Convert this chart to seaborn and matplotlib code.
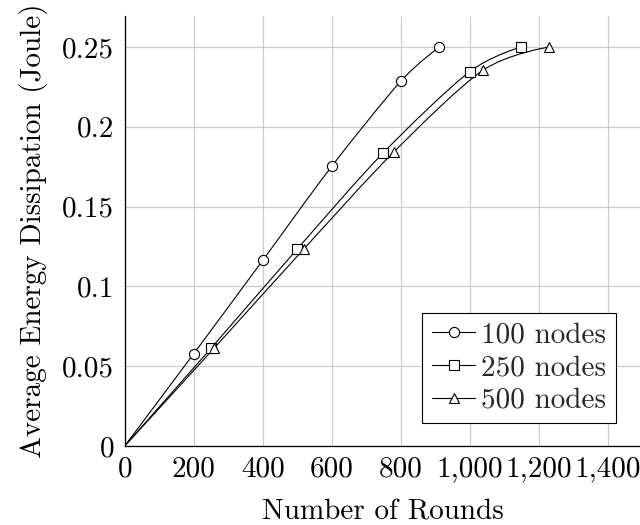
import matplotlib
matplotlib.use("Agg")
import numpy as np
import matplotlib.pyplot as plt
from matplotlib.ticker import FuncFormatter
from matplotlib.path import Path
from matplotlib.patches import PathPatch
import seaborn as sns

# Average energy dissipated per node versus number of rounds
rounds_100 = [0, 200, 400, 600, 800, 912]
energy_100 = [0, 0.0578, 0.1163, 0.1752, 0.2285, 0.25]
rounds_250 = [0, 250, 500, 750, 1000, 1150]
energy_250 = [0, 0.0612, 0.1234, 0.1838, 0.2345, 0.25]
rounds_500 = [0, 260, 520, 780, 1040, 1230]
energy_500 = [0, 0.0615, 0.1236, 0.1842, 0.2356, 0.25]
series_labels = ["100 nodes", "250 nodes", "500 nodes"]
series_markers = ["o", "s", "^"]
x_ticks = [0, 200, 400, 600, 800, 1000, 1200, 1400]
y_ticks = [0, 0.05, 0.1, 0.15, 0.2, 0.25]


def smooth_path(xs, ys, tension=0.55):
    """Cubic Bezier path through the points, TikZ 'smooth' style."""
    pts = np.column_stack([xs, ys]).astype(float)
    f = 0.2775 * tension
    n = len(pts)
    verts = [pts[0]]
    codes = [Path.MOVETO]
    for i in range(n - 1):
        p1, p2 = pts[i], pts[i + 1]
        c1 = p1 if i == 0 else p1 + f * (p2 - pts[i - 1])
        c2 = p2 if i + 2 >= n else p2 - f * (pts[i + 2] - p1)
        verts += [c1, c2, p2]
        codes += [Path.CURVE4] * 3
    return Path(verts, codes)


sns.set_theme(style="white")
plt.rcParams["font.family"] = ["cmr10", "DejaVu Serif"]
plt.rcParams["axes.formatter.use_mathtext"] = True
plt.rcParams["mathtext.fontset"] = "cm"

FS = 21
fig = plt.figure(figsize=(6.4, 5.25), dpi=100)
ax = fig.add_axes([124.7 / 640, 79 / 525, 516.8 / 640, 430 / 525])

series = [(rounds_100, energy_100), (rounds_250, energy_250), (rounds_500, energy_500)]
marker_sizes = [7.3, 7.6, 7.4]
for (xs, ys), lab, mk, ms in zip(series, series_labels, series_markers, marker_sizes):
    ax.add_patch(PathPatch(smooth_path(xs, ys), facecolor="none", edgecolor="black",
                           linewidth=0.8, zorder=2))
    sns.lineplot(x=xs, y=ys, ax=ax, label=lab, color="black", linestyle="none",
                 marker=mk, markersize=ms, markerfacecolor="white",
                 markeredgecolor="black", markeredgewidth=0.8,
                 markevery=slice(1, None), estimator=None, sort=False, zorder=3)

ax.set_xlim(0, 1498)
ax.set_ylim(0, 0.2694)
ax.set_xticks(x_ticks)
ax.set_yticks(y_ticks)
ax.xaxis.set_major_formatter(FuncFormatter(lambda v, p: f"{v:,.0f}"))
ax.yaxis.set_major_formatter(FuncFormatter(lambda v, p: "0" if v == 0 else f"{v:g}"))

ax.grid(True, color="#cccccc", linewidth=0.9, zorder=0)
ax.set_axisbelow(True)
for side in ("top", "right"):
    ax.spines[side].set_visible(False)
for side in ("left", "bottom"):
    ax.spines[side].set_color("black")
    ax.spines[side].set_linewidth(0.9)

ax.tick_params(axis="both", direction="in", length=7, width=0.8, color="#8a8a8a",
               labelsize=FS, labelcolor="black")
ax.tick_params(axis="y", pad=7.5)
ax.tick_params(axis="x", pad=7)

ax.set_xlabel("Number of Rounds", fontsize=FS, color="black", labelpad=12)
ax.set_ylabel("Average Energy Dissipation (Joule)", fontsize=FS, color="black", labelpad=10)

leg = ax.legend(loc="lower right", bbox_to_anchor=(0.950, 0.0528), fontsize=FS,
                frameon=True, fancybox=False, edgecolor="black", framealpha=1,
                handlelength=1.5, handletextpad=0.2, borderpad=0.32,
                labelspacing=0.22, borderaxespad=0)
leg.get_frame().set_linewidth(0.8)
for h in leg.legend_handles:
    h.set_markevery([1])
    h.set_linestyle("-")
    h.set_linewidth(0.8)

fig.savefig("out.png", dpi=100)
